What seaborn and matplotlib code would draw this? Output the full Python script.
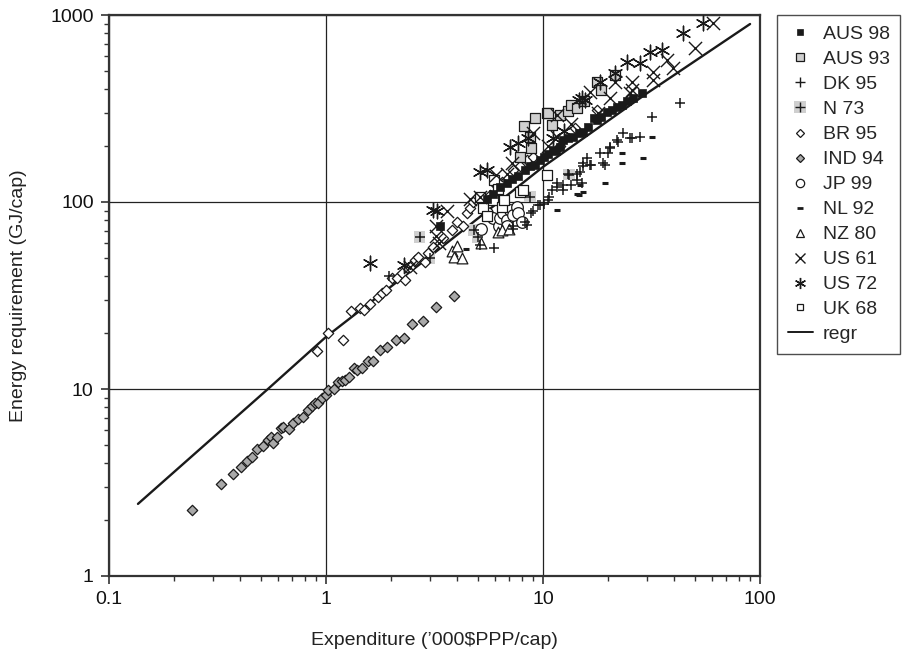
import matplotlib
matplotlib.use("Agg")
import matplotlib.pyplot as plt
import seaborn as sns
from matplotlib.lines import Line2D
from matplotlib.legend_handler import HandlerTuple
from matplotlib.ticker import FixedLocator, FuncFormatter, LogLocator, NullFormatter

sns.set_theme(style="white")
plt.rcParams["font.family"] = ["Liberation Sans", "DejaVu Sans"]

# ---- household energy requirement vs. expenditure, by country survey ----
aus98_x = [3.35, 5.5, 5.9, 6.34, 6.8, 7.2, 7.7, 8.3, 8.7, 9.2, 9.7, 10.1, 10.6, 11.1, 11.5,
           12.0, 12.4, 13.1, 13.8, 14.6, 15.3, 16.2, 17.1, 17.7, 18.6, 19.7, 20.7, 21.9,
           23.1, 24.3, 26.1, 28.5]
aus98_y = [74, 104, 110, 121, 126, 132, 137, 148, 155, 158, 168, 175, 180, 190, 188,
           196, 215, 219, 223, 233, 238, 251, 280, 275, 286, 304, 310, 324,
           330, 348, 359, 381]

aus93_x = [7.8, 8.2, 8.7, 8.8, 9.2, 10.4, 10.6, 11.0, 12.0, 13.0, 13.5, 14.3, 15.5,
           17.7, 18.6, 21.5]
aus93_y = [175, 255, 223, 194, 280, 298, 301, 258, 292, 305, 330, 317, 345,
           440, 397, 478]

dk95_x = [1.96, 5.12, 5.95, 7.3, 7.3, 8.4, 8.3, 8.8, 9.0, 9.5, 9.7, 10.1, 10.6, 10.7,
          11.0, 11.6, 11.6, 12.4, 12.4, 13.1, 13.5, 14.3, 14.3, 14.8, 15.1, 15.3, 15.3,
          15.9, 16.5, 16.7, 18.3, 19.0, 19.3, 20.0, 20.4, 20.4, 21.9, 22.2, 23.4, 25.2,
          25.6, 28.0, 31.7, 42.8]
dk95_y = [40, 59, 56.5, 72, 74, 75, 78, 87, 90, 96, 96, 98, 102, 107,
          116, 121, 126, 116, 123, 142, 123, 131, 142, 145, 126, 155, 161,
          171, 158, 158, 182, 161, 158, 182, 194, 198, 215, 210, 235, 219,
          219, 224, 286, 337]

n73_x = [2.7, 3.0, 4.8, 5.0, 8.7, 13.2]
n73_y = [65, 50, 71, 65, 107, 140]

br95_x = [0.91, 1.02, 1.20, 1.31, 1.43, 1.50, 1.60, 1.74, 1.82, 1.90, 2.01, 2.13, 2.23,
          2.31, 2.44, 2.57, 2.66, 2.86, 2.96, 3.12, 3.35, 3.45, 3.8, 4.0, 4.3, 4.45,
          4.61, 4.78, 5.2, 5.7, 6.1, 6.45, 7.3, 7.8, 8.4, 9.0, 12.0, 14.0, 17.7]
br95_y = [16.0, 20.0, 18.3, 26.2, 27.0, 26.5, 28.5, 31.2, 32.5, 33.8, 39.1, 39.1, 41.6,
          38.3, 45.1, 49.0, 51.0, 48.0, 53.6, 57.3, 60.2, 64.0, 70.8, 78.5, 74.5, 87.0,
          92.5, 100, 102, 109, 123, 128, 148, 155, 168, 175, 200, 250, 310]

ind94_x = [0.24, 0.327, 0.374, 0.405, 0.431, 0.457, 0.482, 0.514, 0.542, 0.556, 0.572,
           0.593, 0.621, 0.636, 0.678, 0.707, 0.745, 0.786, 0.829, 0.859, 0.889, 0.922,
           0.955, 1.0, 1.02, 1.09, 1.14, 1.18, 1.22, 1.28, 1.34, 1.39, 1.47, 1.56, 1.65,
           1.77, 1.92, 2.10, 2.29, 2.50, 2.81, 3.20, 3.90]
ind94_y = [2.25, 3.09, 3.5, 3.84, 4.12, 4.35, 4.78, 4.96, 5.34, 5.56, 5.16,
           5.56, 6.16, 6.29, 6.09, 6.55, 6.88, 7.11, 7.72, 8.11, 8.39, 8.45,
           8.92, 9.27, 9.88, 9.97, 10.9, 11.0, 11.2, 11.6, 12.9, 12.7, 12.9, 14.2, 14.1,
           16.2, 16.7, 18.3, 18.7, 22.3, 23.1, 27.5, 31.4]

jp99_x = [5.2, 5.5, 5.9, 6.3, 6.34, 6.56, 6.8, 6.8, 7.05, 7.3, 7.56, 7.7, 8.0]
jp99_y = [72, 87, 82, 74, 82, 87, 80, 74, 91, 85, 94, 87, 78]

nl92_x = [4.4, 11.6, 14.3, 14.6, 15.3, 14.8, 19.3, 23.1, 23.1, 29.0, 31.7]
nl92_y = [56, 91, 111, 109, 113, 123, 126, 161, 182, 171, 224]

nz80_x = [3.8, 3.9, 4.0, 4.25, 5.2, 6.2, 6.5, 7.0]
nz80_y = [55, 51, 58, 50, 60, 69, 71, 72]

us61_x = [2.45, 3.2, 3.2, 3.3, 3.6, 4.6, 5.1, 6.1, 6.8, 7.2, 9.0, 10.5, 11.6, 11.6, 13.5,
          16.5, 18.0, 20.4, 21.5, 25.1, 25.6, 25.6, 32.2, 32.2, 37.1, 39.9, 50.1, 61.0]
us61_y = [45, 66, 74, 60, 90, 104, 107, 139, 142, 161, 235, 200, 223, 292, 260,
          389, 300, 359, 440, 381, 397, 440, 449, 498, 575, 519, 664, 903]

us72_x = [1.6, 2.3, 3.1, 3.25, 5.1, 5.5, 7.05, 7.7, 8.55, 11.1, 12.5, 14.6, 15.1, 15.6,
          18.3, 21.5, 24.3, 28.0, 31.1, 35.2, 44.3, 54.8]
us72_y = [47, 46, 91, 90, 145, 148, 198, 206, 219, 219, 240, 351, 359, 351,
          440, 488, 563, 552, 637, 650, 799, 903]

uk68_x = [5.1, 5.3, 5.5, 5.9, 5.95, 6.2, 6.45, 6.6, 7.8, 8.1, 10.4]
uk68_y = [107, 93, 84, 102, 131, 118, 94, 102, 113, 116, 139]

regr_x = [0.136, 0.54, 1.0, 3.0, 10.0, 30.0, 90.0]
regr_y = [2.43, 10.0, 19.0, 51.0, 154.0, 380.0, 895.0]

x_ticks = [0.1, 1, 10, 100]
y_ticks = [1, 10, 100, 1000]

DARK = "#1a1a1a"
LIGHT_GREY = "#cfcfcf"
MID_GREY = "#a9a9a9"

fig = plt.figure(figsize=(9.10, 6.53), dpi=100)
ax = fig.add_axes([109 / 910, 1 - 576 / 653, (760 - 109) / 910, (576 - 15) / 653])
ax.set_xscale("log")
ax.set_yscale("log")

# regression curve
sns.lineplot(x=regr_x, y=regr_y, ax=ax, color=DARK, linewidth=1.7, sort=False, zorder=2)

# N 73 has a pale square behind its plus sign
sns.scatterplot(x=n73_x, y=n73_y, ax=ax, marker="s", s=70, color=LIGHT_GREY,
                edgecolor="none", linewidth=0, zorder=3)

specs = [
    (ind94_x, ind94_y, dict(marker="D", s=28, color=MID_GREY, edgecolor=DARK, linewidth=0.9)),
    (br95_x, br95_y, dict(marker="D", s=28, color="white", edgecolor=DARK, linewidth=0.9)),
    (jp99_x, jp99_y, dict(marker="o", s=70, color="white", edgecolor=DARK, linewidth=0.9)),
    (nz80_x, nz80_y, dict(marker="^", s=60, color="white", edgecolor=DARK, linewidth=0.9)),
    (uk68_x, uk68_y, dict(marker="s", s=55, color="white", edgecolor=DARK, linewidth=0.9)),
    (aus93_x, aus93_y, dict(marker="s", s=55, color=LIGHT_GREY, edgecolor=DARK, linewidth=0.9)),
    (aus98_x, aus98_y, dict(marker="s", s=30, color=DARK, edgecolor=DARK, linewidth=0.5)),
    (dk95_x, dk95_y, dict(marker="+", s=60, color=DARK, linewidth=1.1)),
    (n73_x, n73_y, dict(marker="+", s=60, color=DARK, linewidth=1.1)),
    (nl92_x, nl92_y, dict(marker="_", s=22, color=DARK, linewidth=2.2)),
    (us61_x, us61_y, dict(marker="x", s=90, color=DARK, linewidth=1.0)),
    (us72_x, us72_y, dict(marker=(6, 2, 0), s=110, color=DARK, linewidth=1.0)),
]
for xs, ys, kw in specs:
    sns.scatterplot(x=xs, y=ys, ax=ax, zorder=4, **kw)

ax.set_xlim(0.1, 100)
ax.set_ylim(1, 1000)
fmt = FuncFormatter(lambda v, _: f"{v:g}")
ax.xaxis.set_major_locator(FixedLocator(x_ticks))
ax.yaxis.set_major_locator(FixedLocator(y_ticks))
ax.xaxis.set_major_formatter(fmt)
ax.yaxis.set_major_formatter(fmt)
ax.xaxis.set_minor_locator(LogLocator(base=10, subs=range(2, 10)))
ax.yaxis.set_minor_locator(LogLocator(base=10, subs=range(2, 10)))
ax.xaxis.set_minor_formatter(NullFormatter())
ax.yaxis.set_minor_formatter(NullFormatter())
ax.tick_params(which="major", direction="out", length=6, width=1.2, color="#333333",
               labelsize=14, labelcolor="#111111", pad=5)
ax.tick_params(which="minor", direction="out", length=3.5, width=1.0, color="#333333")
ax.tick_params(axis="x", which="both", bottom=True)
ax.tick_params(axis="y", which="both", left=True)
ax.grid(True, which="major", color="#222222", linewidth=0.9)
ax.set_axisbelow(True)
for side in ax.spines.values():
    side.set_visible(True)
    side.set_color("#333333")
    side.set_linewidth(1.6)

ax.set_xlabel("Expenditure (\u2019000$PPP/cap)", fontsize=14, color="#222222", labelpad=17)
ax.set_ylabel("Energy requirement (GJ/cap)", fontsize=14, color="#222222", labelpad=17)

# legend
def mk(marker, size, face, edge=DARK, lw=0.9):
    return Line2D([], [], linestyle="none", marker=marker, markersize=size,
                  markerfacecolor=face, markeredgecolor=edge, markeredgewidth=lw)

handles = [
    mk("s", 4.5, DARK, DARK, 0.5),
    mk("s", 5.5, LIGHT_GREY),
    mk("+", 7, DARK, DARK, 1.0),
    (mk("s", 8, LIGHT_GREY, "none", 0), mk("+", 7, DARK, DARK, 1.0)),
    mk("D", 4.5, "white"),
    mk("D", 4.5, MID_GREY),
    mk("o", 6, "white"),
    mk("_", 5, DARK, DARK, 2.0),
    mk("^", 6, "white"),
    mk("x", 7, DARK, DARK, 1.0),
    mk((6, 2, 0), 8, DARK, DARK, 1.0),
    mk("s", 5, "white"),
    Line2D([], [], color=DARK, linewidth=1.4),
]
labels = ["AUS 98", "AUS 93", "DK 95", "N 73", "BR 95", "IND 94", "JP 99", "NL 92",
          "NZ 80", "US 61", "US 72", "UK 68", "regr"]
leg = fig.legend(handles, labels, loc="upper left", bbox_to_anchor=(777 / 910, 1 - 15 / 653),
                 frameon=True, fancybox=False, fontsize=14, handlelength=1.3,
                 handletextpad=0.5, labelspacing=0.38, borderpad=0.55, borderaxespad=0,
                 handler_map={tuple: HandlerTuple(ndivide=1)})
leg.get_frame().set_edgecolor("#222222")
leg.get_frame().set_linewidth(1.0)

fig.savefig("out.png", dpi=100)
